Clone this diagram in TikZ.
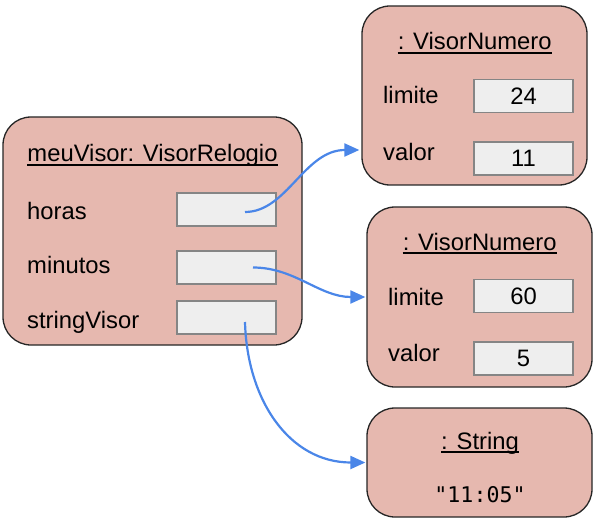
\documentclass[tikz,border=0pt]{standalone}
\usepackage{fontspec}
\setmainfont{Liberation Sans}
\setmonofont{DejaVu Sans Mono}
\usetikzlibrary{arrows.meta}
\definecolor{objfill}{HTML}{E6B8AF}
\definecolor{slotfill}{HTML}{EEEEEE}
\definecolor{slotline}{HTML}{858585}
\definecolor{refblue}{HTML}{4A86E8}
\tikzset{
  objbox/.style={draw=black!85, line width=1.3pt, fill=objfill, rounded corners=28pt, inner sep=0pt},
  slotbox/.style={draw=slotline, line width=1.4pt, fill=slotfill, minimum width=99pt, minimum height=33pt, inner sep=0pt},
  objtitle/.style={anchor=base, inner sep=0pt},
  fieldname/.style={anchor=base west, inner sep=0pt},
  titleline/.style={line width=1.5pt},
  reflink/.style={draw=refblue, line width=2.2pt, -{Triangle[length=15pt,width=13pt]}},
}
\begin{document}
\begin{tikzpicture}[x=1pt,y=-1pt,font=\fontsize{23.8}{28}\selectfont]
  \useasboundingbox (0,0) rectangle (596,521);
  % object boxes
  \node[objbox, minimum width=299pt, minimum height=228pt] (relogio) at (152.5,231) {};
  \node[objbox, minimum width=225pt, minimum height=179pt] (horasobj) at (474.5,95.5) {};
  \node[objbox, minimum width=225pt, minimum height=180pt] (minobj) at (479.5,297) {};
  \node[objbox, minimum width=225pt, minimum height=109pt] (strobj) at (479.5,462.5) {};
  % titles, underlined just below the baseline
  \node[objtitle] (reltitle) at (152.5,162) {meuVisor: VisorRelogio};
  \node[objtitle] (htitle) at (474.7,50) {: VisorNumero};
  \node[objtitle] (mtitle) at (479.7,250) {: VisorNumero};
  \node[objtitle] (stitle) at (480,449) {: String};
  \draw[titleline] ([yshift=-3pt]reltitle.base west) -- ([yshift=-3pt]reltitle.base east);
  \draw[titleline] ([yshift=-3pt]htitle.base west) -- ([yshift=-3pt]htitle.base east);
  \draw[titleline] ([yshift=-3pt]mtitle.base west) -- ([yshift=-3pt]mtitle.base east);
  \draw[titleline] ([yshift=-3pt]stitle.base west) -- ([yshift=-3pt]stitle.base east);
  % fields of meuVisor
  \node[fieldname] (horas) at (27,219) {horas};
  \node[fieldname] (minutos) at (27,273) {minutos};
  \node[fieldname] (strvisor) at (27,328) {stringVisor};
  \node[slotbox] (horasslot) at (226.5,209.5) {};
  \node[slotbox] (minslot) at (226.5,267.5) {};
  \node[slotbox] (strslot) at (226.5,317.5) {};
  % fields of the two VisorNumero
  \node[fieldname] (hlimite) at (383,104) {limite};
  \node[fieldname] (hvalor) at (383,161) {valor};
  \node[slotbox] (hlimslot) at (523.5,96) {24};
  \node[slotbox] (hvalslot) at (523.5,158.5) {11};
  \node[fieldname] (mlimite) at (388,305) {limite};
  \node[fieldname] (mvalor) at (388,361) {valor};
  \node[slotbox] (mlimslot) at (523.5,296) {60};
  \node[slotbox] (mvalslot) at (523.5,358.5) {5};
  % the string value
  \node[font=\fontsize{21.6}{24}\ttfamily] (strval) at (480,495) {"11:05"};
  % references
  \coordinate (hsrc) at ([xshift=18.5pt,yshift=-2.5pt]horasslot.center);
  \coordinate (msrc) at ([xshift=26.5pt]minslot.center);
  \coordinate (ssrc) at ([xshift=18.5pt,yshift=-4.5pt]strslot.center);
  \coordinate (hdst) at ([xshift=-2pt,yshift=-54.5pt]horasobj.west);
  \coordinate (mdst) at ([xshift=-1pt]minobj.west);
  \coordinate (sdst) at ([xshift=-1pt]strobj.west);
  \draw[reflink] (hsrc) .. controls +(42,0) and +(-55,0) .. (hdst);
  \draw[reflink] (msrc) .. controls +(42,0) and +(-46,0) .. (mdst);
  \draw[reflink] (ssrc) .. controls +(2,78) and +(-76,0) .. (sdst);
\end{tikzpicture}
\end{document}
